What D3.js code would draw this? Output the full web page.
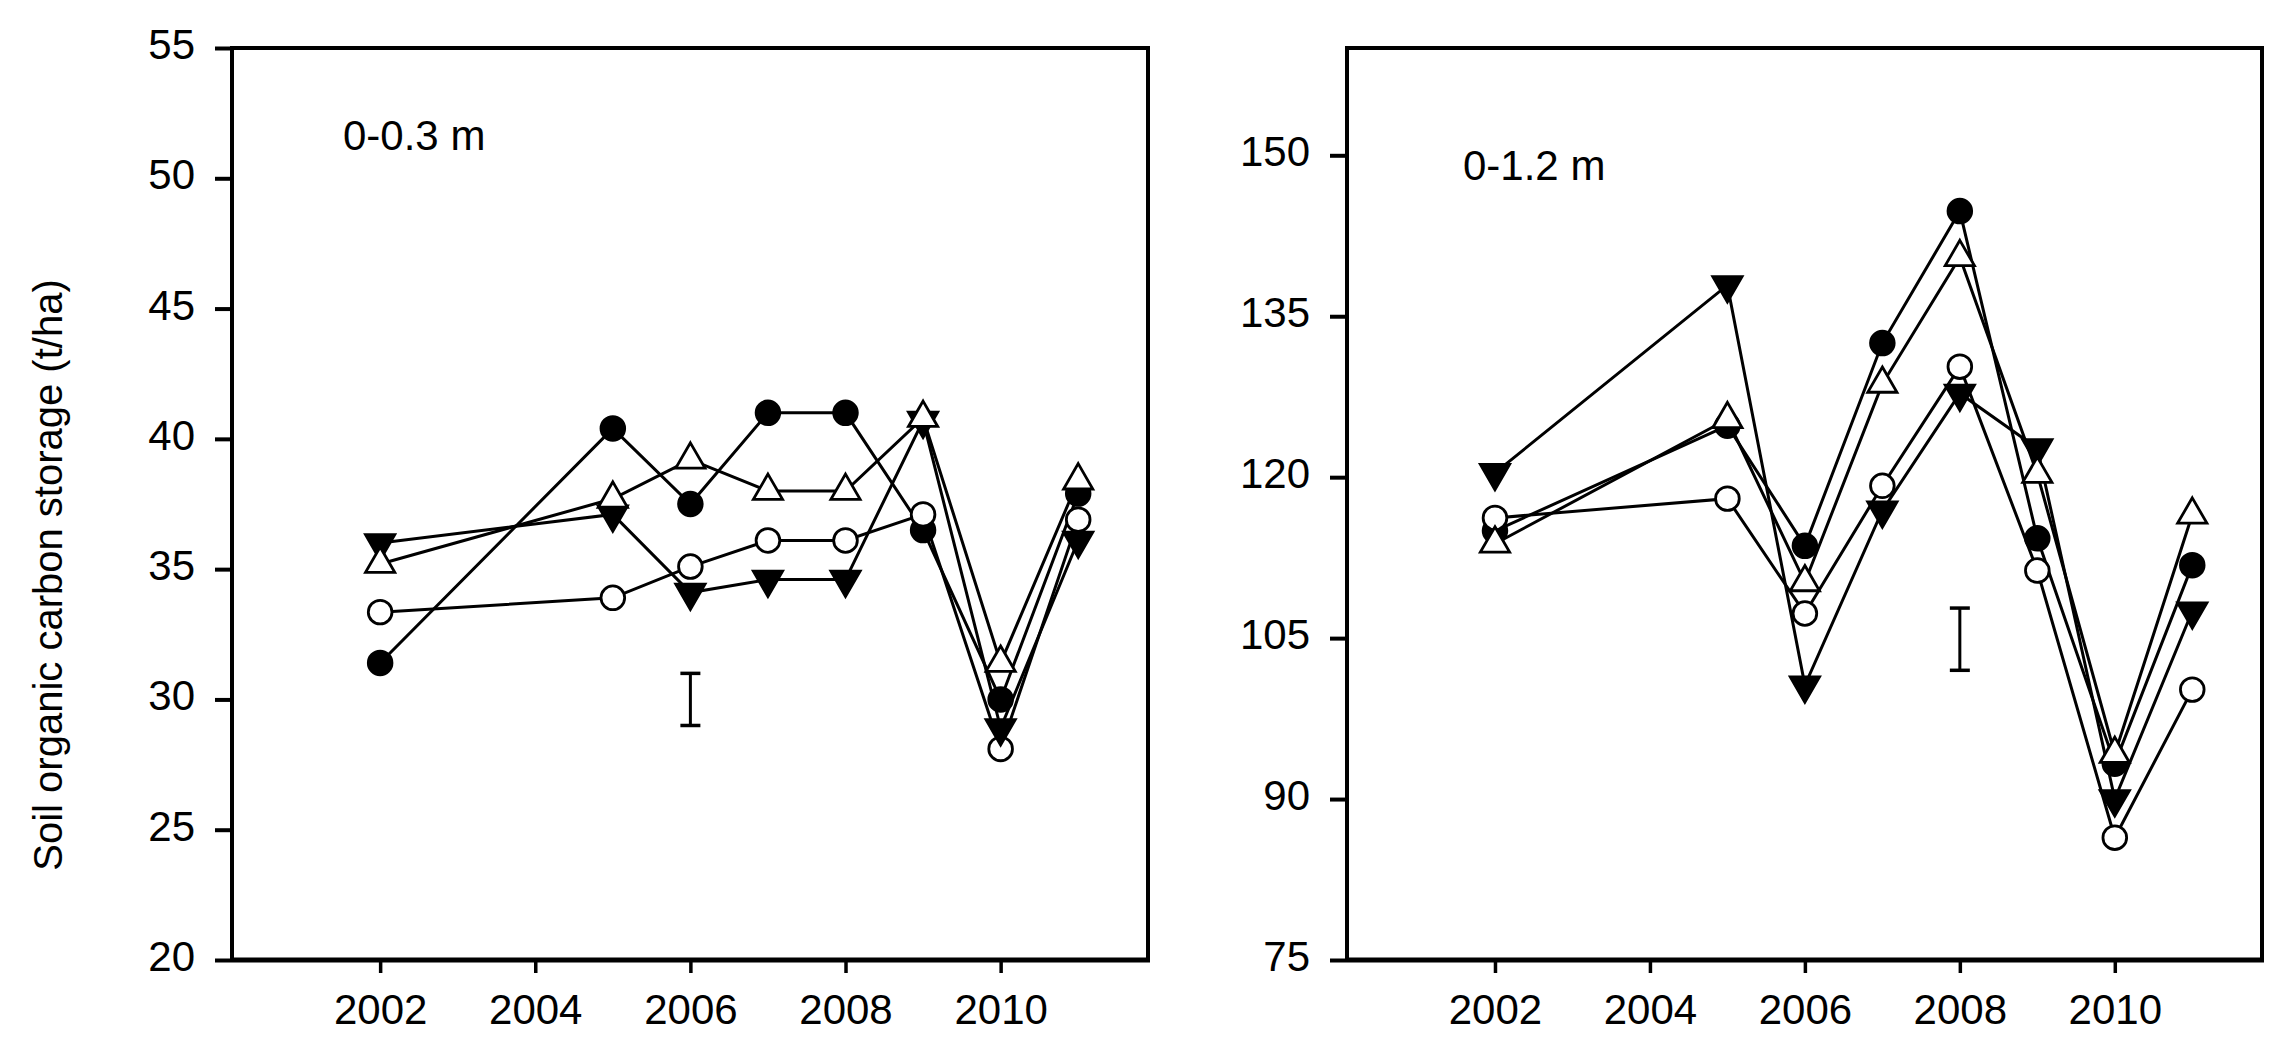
<!DOCTYPE html>
<html>
<head>
<meta charset="utf-8">
<script src="https://cdnjs.cloudflare.com/ajax/libs/d3/7.8.5/d3.min.js"></script>
<style>
body { margin: 0; background: #fff; }
text { font-family: Arial, "Liberation Sans", sans-serif; fill: #000; }
</style>
</head>
<body>
<div id="chart-area"></div>
<script>
var years = [2002, 2005, 2006, 2007, 2008, 2009, 2010, 2011];
var xTicks = [2002, 2004, 2006, 2008, 2010];

// 0-0.3 m layer
var top_fc = [31.4, 40.4, 37.5, 41.0, 41.0, 36.5, 30.0, 37.9];
var top_oc = [33.35, 33.9, 35.1, 36.1, 36.1, 37.1, 28.1, 36.9];
var top_ft = [36.0, 37.1, 34.1, 34.6, 34.6, 40.7, 28.9, 36.1];
var top_ot = [35.2, 37.7, 39.2, 38.0, 38.0, 40.8, 31.4, 38.4];
var topTicks = [20, 25, 30, 35, 40, 45, 50, 55];
var topBar = [2006, 29.0, 31.0];

// 0-1.2 m layer
var deep_fc = [115.0, 124.8, 113.6, 132.5, 144.8, 114.3, 93.3, 111.8];
var deep_oc = [116.2, 118.0, 107.3, 119.2, 130.3, 111.3, 86.4, 100.2];
var deep_ft = [120.4, 137.9, 100.6, 116.9, 127.8, 122.7, 90.0, 107.5];
var deep_ot = [113.8, 125.4, 110.2, 128.7, 140.5, 120.3, 94.2, 116.5];
var deepTicks = [75, 90, 105, 120, 135, 150];
var deepBar = [2008, 102.0, 107.8];

var plotTop = 48, plotBottom = 960;

var svg = d3.select("#chart-area").append("svg")
	.attr("width", 2275)
	.attr("height", 1037);

svg.append("rect").attr("width", 2275).attr("height", 1037).attr("fill", "#fff");

// marker look for each series, same order as data arrays
var markers = [
	{type: d3.symbolCircle, size: 440, fill: "#000", rot: 0},
	{type: d3.symbolCircle, size: 440, fill: "#fff", rot: 0},
	{type: d3.symbolTriangle, size: 370, fill: "#000", rot: 180},
	{type: d3.symbolTriangle, size: 370, fill: "#fff", rot: 0}
];

function drawPanel(x0, x1, yDomain, yTicks, data, bar, label, lx, ly) {
	var x = d3.scaleLinear().domain([2000.09, 2011.9]).range([x0, x1]);
	var y = d3.scaleLinear().domain(yDomain).range([plotBottom, plotTop]);
	var g = svg.append("g");

	var yAxis = g.append("g")
		.attr("transform", "translate(" + x0 + ",0)")
		.call(d3.axisLeft(y).tickValues(yTicks).tickSize(17).tickPadding(20).tickSizeOuter(0));
	yAxis.select(".domain").remove();
	yAxis.selectAll("line").attr("stroke", "#000").attr("stroke-width", 4);
	yAxis.selectAll("text").attr("font-size", 42).attr("dy", "0.25em")
		.style("font-family", "Arial, 'Liberation Sans', sans-serif");

	var xAxis = g.append("g")
		.attr("transform", "translate(0," + plotBottom + ")")
		.call(d3.axisBottom(x).tickValues(xTicks).tickSize(13).tickPadding(21)
			.tickSizeOuter(0).tickFormat(d3.format("d")));
	xAxis.select(".domain").remove();
	xAxis.selectAll("line").attr("stroke", "#000").attr("stroke-width", 3.5);
	xAxis.selectAll("text").attr("font-size", 42)
		.style("font-family", "Arial, 'Liberation Sans', sans-serif");

	// frame
	g.append("rect")
		.attr("x", x0).attr("y", plotTop)
		.attr("width", x1 - x0).attr("height", plotBottom - plotTop)
		.attr("fill", "none").attr("stroke", "#000").attr("stroke-width", 4);
	g.append("line")
		.attr("x1", x0).attr("x2", x1 + 2)
		.attr("y1", plotBottom).attr("y2", plotBottom)
		.attr("stroke", "#000").attr("stroke-width", 5);

	// error bar
	var bx = x(bar[0]);
	g.append("line").attr("x1", bx).attr("x2", bx)
		.attr("y1", y(bar[1])).attr("y2", y(bar[2]))
		.attr("stroke", "#000").attr("stroke-width", 3);
	[bar[1], bar[2]].forEach(function(v){
		g.append("line").attr("x1", bx - 10).attr("x2", bx + 10)
			.attr("y1", y(v)).attr("y2", y(v))
			.attr("stroke", "#000").attr("stroke-width", 3.5);
	});

	var line = d3.line()
		.x(function(d, i){ return x(years[i]); })
		.y(function(d){ return y(d); });

	data.forEach(function(vals, k){
		var m = markers[k];
		g.append("path")
			.attr("d", line(vals))
			.attr("fill", "none")
			.attr("stroke", "#000")
			.attr("stroke-width", 3);
		g.selectAll(".m" + k)
			.data(vals)
			.enter()
			.append("path")
				.attr("class", "m" + k)
				.attr("d", d3.symbol().type(m.type).size(m.size))
				.attr("transform", function(d, i){
					return "translate(" + x(years[i]) + "," + y(d) + ") rotate(" + m.rot + ")";
				})
				.attr("fill", m.fill)
				.attr("stroke", "#000")
				.attr("stroke-width", 2.8);
	});

	g.append("text")
		.attr("x", lx).attr("y", ly)
		.attr("font-size", 42)
		.text(label);
}

drawPanel(232, 1148, [20, 55], topTicks, [top_fc, top_oc, top_ft, top_ot], topBar, "0-0.3 m", 343, 150);
drawPanel(1347, 2262, [75, 160], deepTicks, [deep_fc, deep_oc, deep_ft, deep_ot], deepBar, "0-1.2 m", 1463, 180);

svg.append("text")
	.attr("transform", "translate(62,575) rotate(-90)")
	.attr("text-anchor", "middle")
	.attr("font-size", 40)
	.text("Soil organic carbon storage (t/ha)");
</script>
</body>
</html>
